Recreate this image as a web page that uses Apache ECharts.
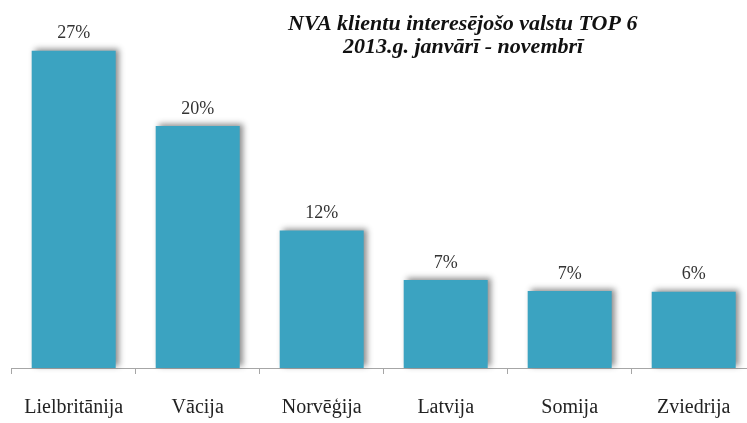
<!DOCTYPE html>
<html>
<head>
<meta charset="utf-8">
<script src="https://cdn.jsdelivr.net/npm/echarts@6/dist/echarts.min.js"></script>
<style>
html, body { margin: 0; padding: 0; background: #fff; overflow: hidden; }
#container { width: 760px; height: 423px; }
</style>
</head>
<body>
<div id="container"></div>
<script>
var countries = ['Lielbritānija', 'Vācija', 'Norvēģija', 'Latvija', 'Somija', 'Zviedrija'];
var shares = [27.0, 20.6, 11.7, 7.5, 6.55, 6.5];
var shareLabels = ['27%', '20%', '12%', '7%', '7%', '6%'];

var dom = document.getElementById("container");
var myChart = echarts.init(dom);
var serif = '"Liberation Serif", "DejaVu Serif", serif';

var option = {
    animation: false,
    title: [{
        text: 'NVA klientu interesējošo valstu TOP 6',
        left: 283,
        top: 8,
        textStyle: { fontFamily: serif, fontStyle: 'italic', fontWeight: 'bold', fontSize: 22, color: '#111' }
    }, {
        text: '2013.g. janvārī - novembrī',
        left: 338,
        top: 31,
        textStyle: { fontFamily: serif, fontStyle: 'italic', fontWeight: 'bold', fontSize: 22, color: '#111' }
    }],
    grid: {
        left: 11.7,
        top: 15.5,
        width: 744,
        height: 352.5
    },
    xAxis: {
        type: 'category',
        data: countries,
        axisLine: { lineStyle: { color: '#a6a6a6', width: 1 } },
        axisTick: { show: true, interval: 0, length: 6, lineStyle: { color: '#a6a6a6' } },
        axisLabel: { interval: 0, margin: 30, fontFamily: serif, fontSize: 20, color: '#222' }
    },
    yAxis: {
        type: 'value',
        min: 0,
        max: 30,
        show: false,
        splitLine: { show: false }
    },
    series: [{
        type: 'bar',
        data: shares,
        barWidth: 84,
        itemStyle: {
            color: '#3ba3c1',
            shadowColor: 'rgba(0,0,0,0.45)',
            shadowBlur: 6,
            shadowOffsetX: 3,
            shadowOffsetY: -2
        },
        label: {
            show: true,
            position: 'top',
            distance: 8,
            fontFamily: serif,
            fontSize: 18,
            color: '#333',
            formatter: function (p) { return shareLabels[p.dataIndex]; }
        }
    }]
};

myChart.setOption(option);
</script>
</body>
</html>
